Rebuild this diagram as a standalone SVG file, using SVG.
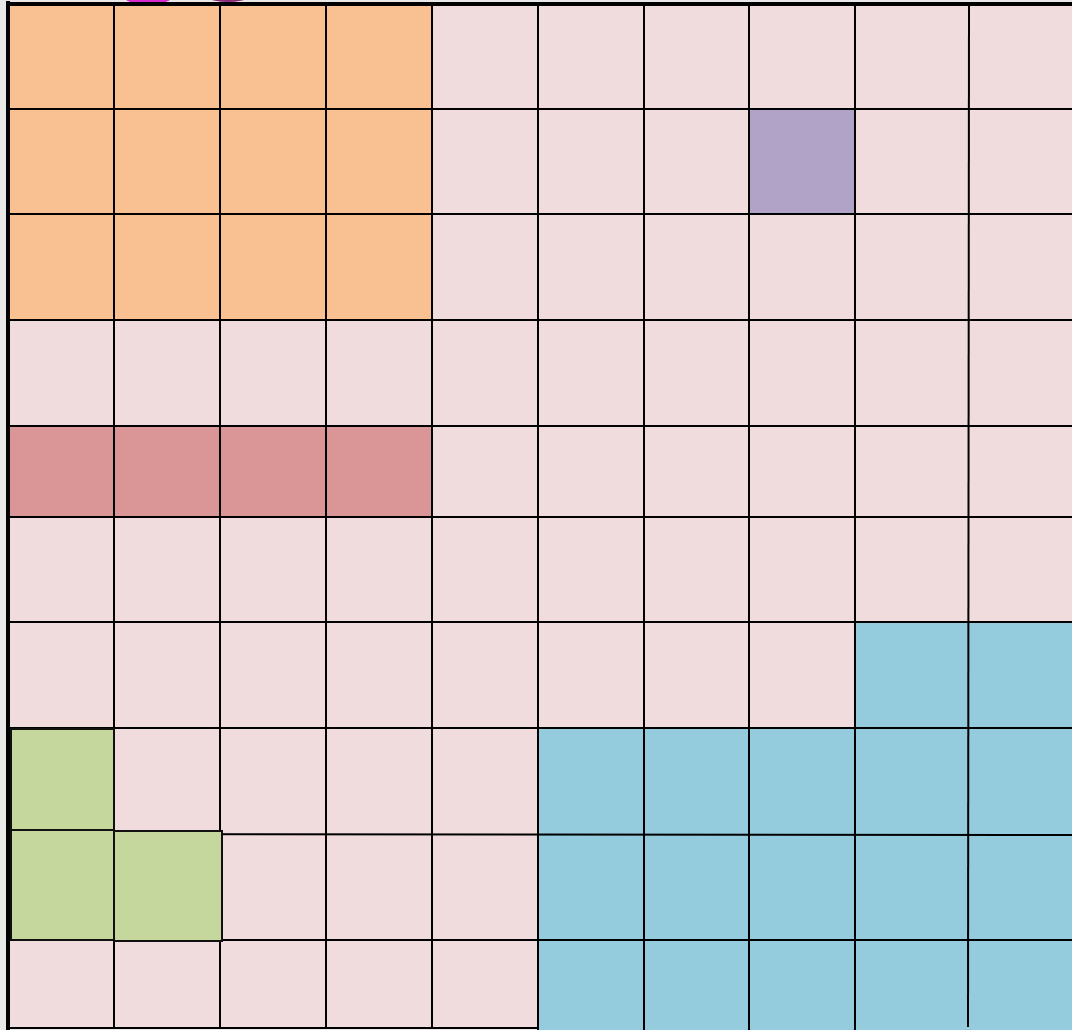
<svg xmlns="http://www.w3.org/2000/svg" width="1072" height="1030" viewBox="0 0 1072 1030">
<style>
.pink{fill:#F0DCDC}
.orange{fill:#F9C191}
.red{fill:#DA9696}
.purple{fill:#B1A3C8}
.blue{fill:#94CBDD}
.green{fill:#C5D79C}
.ln{stroke:#000;stroke-width:2;fill:none}
.bd{stroke:#000;stroke-width:4;fill:none}
.ol{stroke:#111;stroke-width:2}
</style>
<rect x="0" y="0" width="1072" height="1030" fill="#E8E8E8"/>
<g id="blobs">
<ellipse cx="148" cy="-1" rx="22" ry="5" fill="#D62AD0"/>
<ellipse cx="228" cy="-2" rx="18" ry="4" fill="#8A2A7A"/>
</g>
<g id="floor">
<rect class="pink" x="8" y="4" width="1064" height="1024"/>
<rect class="pink" x="538" y="1028" width="534" height="2"/>
</g>
<g id="orange-area"><rect class="orange" x="8" y="4" width="424" height="316"/></g>
<g id="red-area"><rect class="red" x="8" y="426" width="424" height="91"/></g>
<g id="purple-cell"><rect class="purple" x="749" y="109" width="106" height="105"/></g>
<g id="blue-area">
<rect class="blue" x="855" y="622" width="217" height="106"/>
<rect class="blue" x="538" y="728" width="534" height="302"/>
</g>
<g id="grid">
<line class="ln" x1="114" y1="4" x2="114" y2="1028"/>
<line class="ln" x1="220" y1="4" x2="220" y2="1028"/>
<line class="ln" x1="326" y1="4" x2="326" y2="1028"/>
<line class="ln" x1="432" y1="4" x2="432" y2="1028"/>
<line class="ln" x1="538" y1="4" x2="538" y2="1030"/>
<line class="ln" x1="644" y1="4" x2="644" y2="1030"/>
<line class="ln" x1="749" y1="4" x2="749" y2="1030"/>
<line class="ln" x1="855" y1="4" x2="855" y2="1030"/>
<line class="ln" x1="969" y1="4" x2="968" y2="1027"/>
<line class="ln" x1="8" y1="109" x2="1072" y2="109"/>
<line class="ln" x1="8" y1="214" x2="1072" y2="214"/>
<line class="ln" x1="8" y1="320" x2="1072" y2="320"/>
<line class="ln" x1="8" y1="426" x2="1072" y2="426"/>
<line class="ln" x1="8" y1="517" x2="1072" y2="517"/>
<line class="ln" x1="8" y1="622" x2="1072" y2="622"/>
<line class="ln" x1="8" y1="728" x2="1072" y2="728"/>
<line class="ln" x1="8" y1="834" x2="1072" y2="835"/>
<line class="ln" x1="8" y1="940" x2="1072" y2="940"/>
<line class="ln" x1="8" y1="1028" x2="538" y2="1028"/>
</g>
<g id="green-area">
<rect class="green ol" x="11" y="729" width="103" height="101"/>
<rect class="green ol" x="11" y="830" width="103" height="110"/>
<rect class="green ol" x="114" y="831" width="108" height="110"/>
</g>
<g id="border">
<line class="bd" x1="8" y1="1" x2="8" y2="1030"/>
<line class="bd" x1="6" y1="4" x2="1072" y2="4"/>
</g>
</svg>
